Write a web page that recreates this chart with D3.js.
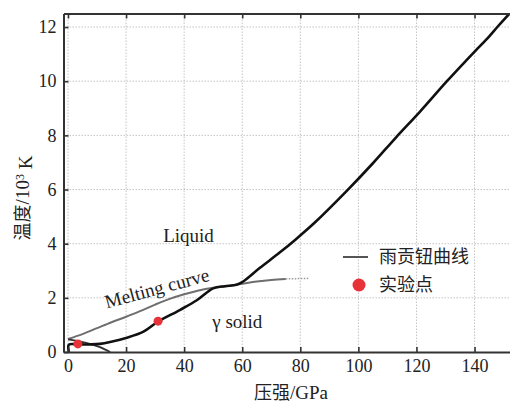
<!DOCTYPE html>
<html>
<head>
<meta charset="utf-8">
<script src="https://cdn.jsdelivr.net/npm/d3@7"></script>
<style>
  body { margin: 0; background: #fff; }
  svg { display: block; }
  .axis path, .axis line { stroke: #333; }
  .axis path { stroke-width: 2px; }
  .axis line { stroke-width: 1.6px; }
  .grid line { stroke: #c4c4c4; stroke-width: 1px; stroke-dasharray: 1.5,1.5; }
</style>
</head>
<body>
<svg id="chart" width="510" height="405"></svg>
<script>
// ticks
const xTicks = [0, 20, 40, 60, 80, 100, 120, 140];
const yTicks = [0, 2, 4, 6, 8, 10, 12];

// Hugoniot curve (GPa, 10^3 K)
const hugP = [0.3, 0.3, 4, 8, 11, 14.5, 20, 26, 31, 38.5, 44.5, 50, 54, 58, 60, 66, 73, 78, 85, 96, 105, 113, 121, 130.5, 137, 141, 145, 148, 152.5];
const hugT = [0, 0.27, 0.28, 0.28, 0.3, 0.37, 0.52, 0.75, 1.12, 1.55, 1.92, 2.35, 2.43, 2.48, 2.58, 3.1, 3.68, 4.12, 4.78, 5.95, 6.97, 7.93, 8.85, 10.0, 10.75, 11.2, 11.65, 12.02, 12.55];

// melting curve, solid part and dotted tail
const meltP = [0, 5, 10, 15, 20, 25, 30, 35, 40, 45, 50, 55, 60, 65, 70, 75];
const meltT = [0.48, 0.66, 0.88, 1.1, 1.3, 1.52, 1.75, 1.96, 2.13, 2.27, 2.37, 2.44, 2.52, 2.6, 2.66, 2.7];
const meltTailP = [75, 83];
const meltTailT = [2.7, 2.72];

// low-pressure solid boundary
const bndP = [0, 6.6, 11, 14.5];
const bndT = [0.47, 0.33, 0.18, 0];

// experiment points
const expP = [3.4, 31];
const expT = [0.3, 1.14];

const legendItems = ['雨贡钮曲线', '实验点'];

const serif = '"Liberation Serif", "Times New Roman", "DejaVu Serif", serif';
const cjk = '"Noto Sans CJK SC", sans-serif';

const svg = d3.select('#chart');
const mLeft = 63.5, mRight = 512, mTop = 13.5, mBottom = 352;

const x = d3.scaleLinear().domain([-1.55, 152.9]).range([mLeft, mRight]);
const y = d3.scaleLinear().domain([0, 12.5]).range([mBottom, mTop]);

svg.append('defs').append('clipPath').attr('id', 'clip')
    .append('rect')
    .attr('x', mLeft).attr('y', mTop)
    .attr('width', mRight - mLeft).attr('height', mBottom - mTop);

// grid
const grid = svg.append('g').classed('grid', true);
grid.selectAll('line.v')
    .data(xTicks)
    .join('line')
        .classed('v', true)
        .attr('x1', d => x(d)).attr('x2', d => x(d))
        .attr('y1', mTop).attr('y2', mBottom);
grid.selectAll('line.h')
    .data(yTicks.filter(d => d > 0))
    .join('line')
        .classed('h', true)
        .attr('x1', mLeft).attr('x2', mRight)
        .attr('y1', d => y(d)).attr('y2', d => y(d));

// curves
const plot = svg.append('g').attr('clip-path', 'url(#clip)');
const lineXY = d3.line().x(d => x(d[0])).y(d => y(d[1]));
const smooth = d3.line().x(d => x(d[0])).y(d => y(d[1])).curve(d3.curveCatmullRom.alpha(0.5));

plot.append('path')
    .datum(meltP.map((p, i) => [p, meltT[i]]))
    .attr('d', smooth)
    .attr('fill', 'none').attr('stroke', '#6e6e6e').attr('stroke-width', 2);
plot.append('path')
    .datum(meltTailP.map((p, i) => [p, meltTailT[i]]))
    .attr('d', lineXY)
    .attr('fill', 'none').attr('stroke', '#9a9a9a').attr('stroke-width', 1.5)
    .attr('stroke-dasharray', '1.5,1.5');

plot.append('path')
    .datum(bndP.map((p, i) => [p, bndT[i]]))
    .attr('d', smooth)
    .attr('fill', 'none').attr('stroke', '#333').attr('stroke-width', 1.8);

plot.append('path')
    .datum(hugP.map((p, i) => [p, hugT[i]]))
    .attr('d', smooth)
    .attr('fill', 'none').attr('stroke', '#111').attr('stroke-width', 2.6)
    .attr('stroke-linejoin', 'round');

plot.selectAll('circle.exp')
    .data(expP.map((p, i) => [p, expT[i]]))
    .join('circle')
        .classed('exp', true)
        .attr('cx', d => x(d[0]))
        .attr('cy', d => y(d[1]))
        .attr('r', 4.5)
        .attr('fill', '#e8323a');

// axes
function styleAxis(g) {
    g.attr('font-family', serif).attr('font-size', 18);
    g.selectAll('.tick text').attr('fill', '#222');
}
svg.append('g').classed('axis', true)
    .attr('transform', `translate(0,${mBottom})`)
    .call(d3.axisBottom(x).tickValues(xTicks).tickSizeInner(-5).tickSizeOuter(0).tickPadding(7))
    .call(styleAxis);
svg.append('g').classed('axis', true)
    .attr('transform', `translate(0,${mTop})`)
    .call(d3.axisTop(x).tickValues(xTicks).tickSizeInner(-5).tickSizeOuter(0).tickFormat(''));
svg.append('g').classed('axis', true)
    .attr('transform', `translate(${mLeft},0)`)
    .call(d3.axisLeft(y).tickValues(yTicks).tickSizeInner(-5).tickSizeOuter(0).tickPadding(7))
    .call(styleAxis);

// region labels
function label(sel) {
    return sel.attr('font-family', serif).attr('font-size', 19).attr('fill', '#222')
        .attr('text-anchor', 'middle').attr('dy', '0.35em');
}
svg.append('text').call(label)
    .attr('x', x(41.5)).attr('y', y(4.3)).text('Liquid');
svg.append('text').call(label)
    .attr('x', x(58.3)).attr('y', y(1.15)).text('γ solid');
svg.append('text').call(label)
    .attr('transform', `translate(${x(30.6)},${y(2.36)}) rotate(-15)`)
    .text('Melting curve');

// axis titles
const xt = svg.append('text').call(label)
    .attr('x', 291).attr('y', 393).attr('font-size', 18);
xt.append('tspan').attr('font-family', cjk).text('压强');
xt.append('tspan').attr('font-size', 19).text('/GPa');

const yt = svg.append('text').call(label)
    .attr('transform', 'translate(23,198) rotate(-90)')
    .attr('font-size', 18);
yt.append('tspan').attr('font-family', cjk).text('温度');
yt.append('tspan').attr('font-size', 19).text('/10');
yt.append('tspan').attr('dy', '-0.45em').attr('font-size', 12).text('3');
yt.append('tspan').attr('dy', '0.45em').attr('font-size', 19).text(' K');

// legend
const lg = svg.append('g').attr('transform', 'translate(343,257)');
lg.append('line')
    .attr('x1', 0).attr('x2', 25).attr('y1', 0).attr('y2', 0)
    .attr('stroke', '#555').attr('stroke-width', 2);
lg.append('circle')
    .attr('cx', 16).attr('cy', 28).attr('r', 6.5)
    .attr('fill', '#e8323a');
lg.selectAll('text')
    .data(legendItems)
    .join('text')
        .attr('font-family', cjk)
        .attr('font-size', 18)
        .attr('fill', '#222')
        .attr('x', 36)
        .attr('y', (d, i) => i * 28)
        .attr('dy', '0.35em')
        .text(d => d);
</script>
</body>
</html>
